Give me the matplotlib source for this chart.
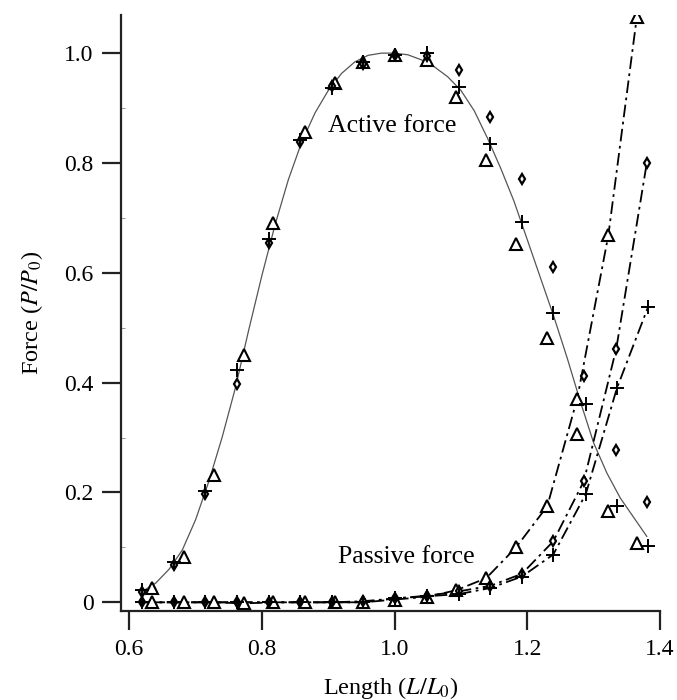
import matplotlib.pyplot as plt
from matplotlib.ticker import MultipleLocator

plt.rcParams['font.family'] = ['Liberation Serif', 'DejaVu Serif']
plt.rcParams['mathtext.fontset'] = 'stix'

# lengths (L/L0) for each marker series
x_plus = [0.62, 0.668, 0.714, 0.763, 0.811, 0.858, 0.906, 0.953, 1.0, 1.049,
          1.097, 1.144, 1.192, 1.239, 1.288, 1.335, 1.382]
x_diam = [0.62, 0.668, 0.714, 0.763, 0.811, 0.858, 0.906, 0.953, 1.0, 1.049,
          1.097, 1.144, 1.192, 1.239, 1.285, 1.334, 1.38]
x_tri = [0.635, 0.683, 0.728, 0.773, 0.817, 0.865, 0.91, 0.953, 1.0, 1.049,
         1.093, 1.138, 1.183, 1.23, 1.275, 1.322, 1.365]

# active force (P/P0)
active_plus = [0.022, 0.073, 0.203, 0.423, 0.662, 0.841, 0.936, 0.984, 0.996, 1.0,
               0.938, 0.834, 0.692, 0.527, 0.361, 0.175, 0.102]
active_diam = [0.018, 0.068, 0.198, 0.398, 0.655, 0.838, 0.94, 0.98, 0.996, 0.995,
               0.969, 0.883, 0.770, 0.611, 0.412, 0.277, 0.182]
active_tri = [0.026, 0.082, 0.232, 0.451, 0.69, 0.856, 0.945, 0.984, 0.996, 0.987,
              0.920, 0.805, 0.653, 0.482, 0.307, 0.166, 0.108]

# passive force (P/P0)
passive_plus = [0, 0, 0, 0, 0, 0, 0, 0, 0.007, 0.011,
                0.015, 0.026, 0.047, 0.087, 0.197, 0.39, 0.538]
passive_diam = [0, 0, 0, 0, 0, 0, 0, 0.002, 0.007, 0.012,
                0.02, 0.03, 0.052, 0.111, 0.22, 0.462, 0.80]
passive_tri = [0, 0, 0, -0.002, 0, 0, 0, 0, 0.005, 0.01,
               0.022, 0.044, 0.10, 0.175, 0.37, 0.668, 1.066]

# fitted active force curve
curve_x = [0.62, 0.64, 0.66, 0.68, 0.70, 0.72, 0.74, 0.76, 0.78, 0.80, 0.82, 0.84,
           0.86, 0.88, 0.90, 0.92, 0.94, 0.96, 0.98, 1.00, 1.02, 1.04, 1.06, 1.08,
           1.10, 1.12, 1.14, 1.16, 1.18, 1.20, 1.22, 1.24, 1.26, 1.28, 1.30, 1.32,
           1.34, 1.36, 1.38]
curve_y = [0.02, 0.035, 0.06, 0.095, 0.15, 0.22, 0.30, 0.39, 0.495, 0.595, 0.688, 0.77,
           0.838, 0.891, 0.932, 0.963, 0.984, 0.996, 1.0, 1.0, 0.997, 0.988, 0.975, 0.957,
           0.932, 0.895, 0.845, 0.79, 0.73, 0.66, 0.59, 0.52, 0.445, 0.365, 0.29, 0.235,
           0.19, 0.155, 0.12]

fig = plt.figure(figsize=(6.77, 7), dpi=100)
ax = fig.add_axes([0.179, 0.127, 0.796, 0.852])

ax.plot(curve_x, curve_y, '-', color='#555555', lw=0.9)

dd = (0, (7, 2.5, 1.5, 2.5))
for xs, ys in [(x_tri, passive_tri), (x_diam, passive_diam), (x_plus, passive_plus)]:
    ax.plot(xs, ys, color='black', lw=1.3, linestyle=dd)

tri = dict(marker='^', ms=8, mfc='white', mec='black', mew=1.5, ls='none')
plus = dict(marker='+', ms=10, mec='black', mew=1.4, ls='none')
diam = dict(marker='d', ms=5, mfc='white', mec='black', mew=1.6, ls='none')

ax.plot(x_tri, active_tri, **tri)
ax.plot(x_tri, passive_tri, **tri)
ax.plot(x_diam, active_diam, **diam)
ax.plot(x_diam, passive_diam, **diam)
ax.plot(x_plus, active_plus, **plus)
ax.plot(x_plus, passive_plus, **plus)

ax.text(0.997, 0.867, 'Active force', fontsize=18.5, ha='center', va='center')
ax.text(1.018, 0.082, 'Passive force', fontsize=18.5, ha='center', va='center')

ax.set_xlim(0.588, 1.4)
ax.set_ylim(-0.016, 1.07)
ax.set_xticks([0.6, 0.8, 1.0, 1.2, 1.4])
ax.set_xticklabels(['0.6', '0.8', '1.0', '1.2', '1.4'])
ax.set_yticks([0, 0.2, 0.4, 0.6, 0.8, 1.0])
ax.set_yticklabels(['0', '0.2', '0.4', '0.6', '0.8', '1.0'])
ax.yaxis.set_minor_locator(MultipleLocator(0.1))

ax.spines['top'].set_visible(False)
ax.spines['right'].set_visible(False)
for s in ['left', 'bottom']:
    ax.spines[s].set_linewidth(1.6)
    ax.spines[s].set_color('#222222')
ax.tick_params(which='major', direction='out', length=14, width=1.6,
               labelsize=17, pad=6, color='#222222')
ax.tick_params(axis='y', which='minor', direction='in', length=3, width=0.6,
               color='#888888')

ax.set_xlabel('Length ($L/L_0$)', fontsize=17.5, labelpad=11)
ax.set_ylabel('Force ($P/P_0$)', fontsize=17.5, labelpad=14)

fig.savefig('out.png', dpi=100)
